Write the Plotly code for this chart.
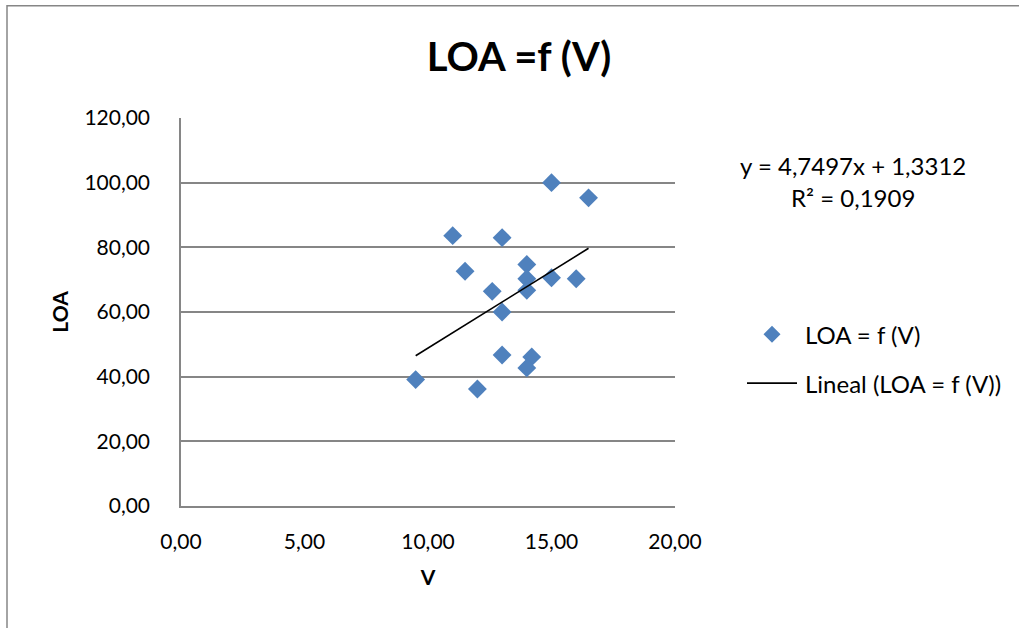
import plotly.graph_objects as go

# Ship speed (V) and length overall (LOA) observations
v_values = [15.0, 16.5, 11.0, 13.0, 11.5, 14.0, 14.0, 14.0, 15.0, 16.0,
            12.6, 13.0, 13.0, 14.2, 14.0, 9.5, 12.0]
loa_values = [100.0, 95.3, 83.6, 83.0, 72.6, 74.7, 70.3, 66.7, 70.6, 70.3,
              66.4, 60.0, 46.7, 46.1, 42.7, 39.1, 36.2]

# Linear trendline coefficients as reported on the chart
slope = 4.7497
intercept = 1.3312
r_squared = 0.1909

x_ticks = [0, 5, 10, 15, 20]
y_ticks = [0, 20, 40, 60, 80, 100, 120]

FONT = "Lato"
GRID = "#868686"
BLUE = "#4F81BD"
TICK_SIZE = 21
LABEL_SIZE = 24


def fmt(v, nd=2):
    return f"{v:.{nd}f}".replace(".", ",")


W, H = 1019, 628
L, R, T, B = 181, 675, 117.5, 506


def px(x):
    return (x - L) / (R - L)


def py(y):
    return (B - y) / (B - T)


x_min, x_max = min(v_values), max(v_values)
trend_x = [x_min, x_max]
trend_y = [slope * x + intercept for x in trend_x]

fig = go.Figure()
fig.add_trace(go.Scatter(
    x=v_values, y=loa_values, mode="markers", name="LOA = f (V)",
    marker=dict(symbol="diamond", size=14.5, color=BLUE, line=dict(width=0)),
    showlegend=False,
))
fig.add_trace(go.Scatter(
    x=trend_x, y=trend_y, mode="lines", name="Lineal (LOA = f (V))",
    line=dict(color="black", width=1.6), showlegend=False,
))

shapes = [
    # outer chart border
    dict(type="rect", xref="paper", yref="paper",
         x0=px(7), x1=px(1040), y0=py(650), y1=py(5),
         line=dict(color=GRID, width=1.5), layer="below"),
    # legend: line sample
    dict(type="line", xref="paper", yref="paper",
         x0=px(747), x1=px(797), y0=py(383), y1=py(383),
         line=dict(color="black", width=1.6)),
]
# legend: diamond sample
cx, cy, hw = 772, 334, 8.5
shapes.append(dict(
    type="path", xref="paper", yref="paper",
    path=(f"M {px(cx)} {py(cy - hw)} L {px(cx + hw)} {py(cy)} "
          f"L {px(cx)} {py(cy + hw)} L {px(cx - hw)} {py(cy)} Z"),
    fillcolor=BLUE, line=dict(width=0),
))

annotations = [
    dict(text=f"y = {fmt(slope, 4)}x + {fmt(intercept, 4)}", xref="paper", yref="paper",
         x=px(853), y=py(165), showarrow=False, xanchor="center", yanchor="middle",
         font=dict(family=FONT, size=LABEL_SIZE, color="black")),
    dict(text=f"R² = {fmt(r_squared, 4)}", xref="paper", yref="paper",
         x=px(853), y=py(197), showarrow=False, xanchor="center", yanchor="middle",
         font=dict(family=FONT, size=LABEL_SIZE, color="black")),
    dict(text="LOA = f (V)", xref="paper", yref="paper",
         x=px(803), y=py(334), showarrow=False, xanchor="left", yanchor="middle",
         font=dict(family=FONT, size=LABEL_SIZE, color="black")),
    dict(text="Lineal (LOA = f (V))", xref="paper", yref="paper",
         x=px(803), y=py(383), showarrow=False, xanchor="left", yanchor="middle",
         font=dict(family=FONT, size=LABEL_SIZE, color="black")),
]

fig.update_layout(
    width=W, height=H,
    paper_bgcolor="white", plot_bgcolor="white",
    margin=dict(l=L, r=W - R, t=T, b=H - B, pad=0),
    title=dict(text="<b>LOA =f (V)</b>", x=519 / W, y=1 - 57 / H,
               xanchor="center", yanchor="middle",
               font=dict(family=FONT, size=40, color="black")),
    font=dict(family=FONT, size=TICK_SIZE, color="black"),
    shapes=shapes, annotations=annotations,
    showlegend=False,
)
fig.update_xaxes(
    range=[0, 20], tickvals=x_ticks, ticktext=[fmt(t) for t in x_ticks],
    showgrid=False, zeroline=False,
    showline=True, linecolor=GRID, linewidth=1.5,
    ticks="", ticklabelstandoff=16,
    tickfont=dict(family=FONT, size=TICK_SIZE, color="black"),
    title=dict(text="<b>V</b>", standoff=18,
               font=dict(family=FONT, size=TICK_SIZE, color="black")),
)
fig.update_yaxes(
    range=[0, 120], tickvals=y_ticks, ticktext=[fmt(t) for t in y_ticks],
    showgrid=True, gridcolor=GRID, gridwidth=1.5, zeroline=False,
    showline=True, linecolor=GRID, linewidth=1.5,
    ticks="", ticklabelstandoff=25,
    tickfont=dict(family=FONT, size=TICK_SIZE, color="black"),
    title=dict(text="<b>LOA</b>", standoff=10,
               font=dict(family=FONT, size=TICK_SIZE, color="black")),
)

fig.write_html("out.html")
